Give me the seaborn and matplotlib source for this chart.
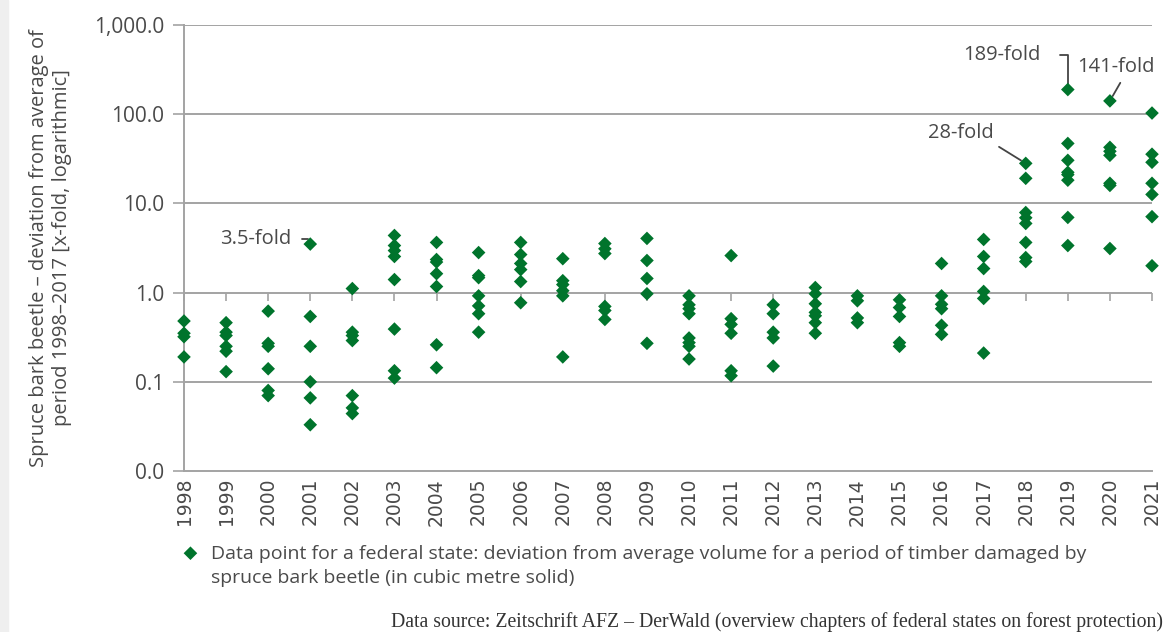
''' spruce bark beetle deviation per federal state, log scale scatter '''
import matplotlib
matplotlib.use("Agg")
import matplotlib.pyplot as plt
from matplotlib.patches import Rectangle
import seaborn as sb
import pandas as pd

years = list(range(1998, 2022))

# one list of state values (x-fold deviation) per year
deviation = [
    [0.48, 0.35, 0.32, 0.19],                                   # 1998
    [0.46, 0.36, 0.33, 0.25, 0.22, 0.13],                       # 1999
    [0.62, 0.27, 0.25, 0.14, 0.08, 0.07],                       # 2000
    [3.5, 0.54, 0.25, 0.10, 0.066, 0.033],                      # 2001
    [1.11, 0.36, 0.33, 0.29, 0.07, 0.051, 0.044],               # 2002
    [4.37, 3.37, 2.96, 2.54, 1.4, 0.39, 0.133, 0.11],           # 2003
    [3.65, 2.35, 2.2, 1.63, 1.17, 0.26, 0.144],                 # 2004
    [2.81, 1.55, 1.47, 0.92, 0.71, 0.58, 0.36],                 # 2005
    [3.65, 2.67, 2.12, 1.81, 1.33, 0.77],                       # 2006
    [2.4, 1.36, 1.23, 1.05, 0.92, 0.19],                        # 2007
    [3.55, 3.1, 2.74, 0.70, 0.63, 0.50],                        # 2008
    [4.05, 2.29, 1.44, 0.97, 0.27],                             # 2009
    [0.92, 0.73, 0.66, 0.58, 0.31, 0.275, 0.25, 0.18],          # 2010
    [2.6, 0.51, 0.44, 0.35, 0.133, 0.117],                      # 2011
    [0.73, 0.58, 0.36, 0.31, 0.15],                             # 2012
    [1.14, 0.97, 0.75, 0.6, 0.55, 0.46, 0.35],                  # 2013
    [0.92, 0.81, 0.52, 0.46],                                   # 2014
    [0.83, 0.68, 0.54, 0.275, 0.25],                            # 2015
    [2.12, 0.92, 0.74, 0.66, 0.43, 0.34],                       # 2016
    [3.94, 2.54, 1.86, 1.03, 0.86, 0.21],                       # 2017
    [28.1, 19.1, 7.9, 6.9, 5.96, 3.65, 2.47, 2.23],             # 2018
    [189, 47, 30.4, 22.3, 21, 18.2, 6.96, 3.37],                # 2019
    [141, 42.5, 38.4, 34.6, 16.8, 15.9, 3.12],                  # 2020
    [103, 35.6, 28.9, 16.8, 12.6, 7.1, 2.0],                    # 2021
]

ytick_values = [0.01, 0.1, 1, 10, 100, 1000]
ytick_labels = ["0.0", "0.1", "1.0", "10.0", "100.0", "1,000.0"]

legend_label = ("Data point for a federal state: deviation from average volume for a period of timber damaged by\n"
                "spruce bark beetle (in cubic metre solid)")
source_text = "Data source: Zeitschrift AFZ \u2013 DerWald (overview chapters of federal states on forest protection)"
ylabel = "Spruce bark beetle \u2013 deviation from average of\nperiod 1998\u20132017 [x-fold, logarithmic]"

rows = [(y, v) for y, vals in zip(years, deviation) for v in vals]
df = pd.DataFrame(rows, columns=["year", "deviation"])

green = "#00742c"
grid_col = "#a3a3a3"
text_col = "#4a4a4a"

sb.set_style("white")
plt.rcParams["font.family"] = ["Open Sans", "DejaVu Sans"]

fig = plt.figure(figsize=(11.71, 6.32), dpi=100)
fig.patches.append(Rectangle((0, 0), 8 / 1171, 1, transform=fig.transFigure,
                             color="#efefef", zorder=0))
ax = fig.add_axes([184 / 1171, 1 - 471 / 632, (1152 - 184) / 1171, (471 - 25) / 632])

sb.scatterplot(data=df, x="year", y="deviation", ax=ax, marker="D", s=48,
               color=green, edgecolor="none", label=legend_label, zorder=5, clip_on=False)

ax.set_yscale("log")
ax.set_ylim(0.01, 1000)
ax.set_xlim(1998, 2021)
ax.set_yticks(ytick_values)
ax.set_yticklabels(ytick_labels)
ax.minorticks_off()
ax.set_xticks(years)
ax.set_xticklabels([str(y) for y in years], rotation=90,
                   family=["DejaVu Sans"], fontsize=13.5)

for v in ytick_values[1:]:
    ax.axhline(v, color=grid_col, lw=1.4, zorder=1)
for side in ["top", "right"]:
    ax.spines[side].set_visible(False)
for side in ["left", "bottom"]:
    ax.spines[side].set_color(grid_col)
    ax.spines[side].set_linewidth(1.4)

ax.tick_params(axis="y", length=8, width=1.2, color=grid_col, labelsize=15,
               labelcolor=text_col, pad=6, left=True)
ax.tick_params(axis="x", length=0, labelcolor=text_col, pad=5)

# excel style category ticks on the 1.0 line
sec = ax.secondary_xaxis(0.4)
sec.set_xticks(years)
sec.set_xticklabels([])
sec.tick_params(axis="x", length=6, width=1.2, color=grid_col)
sec.spines["bottom"].set_visible(False)

ax.set_xlabel("")
ax.set_ylabel(ylabel, fontsize=14.5, color=text_col, labelpad=16, linespacing=1.2)

line_kw = dict(arrowstyle="-", color="#444444", lw=1.3)
ann_size = 14.5
ax.annotate("3.5-fold", xy=(2001, 3.5), xytext=(2000.55, 4.0), ha="right", va="center",
            fontsize=ann_size, color=text_col,
            arrowprops=dict(line_kw, connectionstyle="angle,angleA=0,angleB=90,rad=0",
                            relpos=(1, 0.5), shrinkA=5, shrinkB=4))
ax.annotate("28-fold", xy=(2018, 28.1), xytext=(2016.45, 61), ha="center", va="center",
            fontsize=ann_size, color=text_col,
            arrowprops=dict(line_kw, relpos=(1, 0), shrinkA=2, shrinkB=4))
ax.annotate("189-fold", xy=(2019, 189), xytext=(2017.43, 460), ha="center", va="center",
            fontsize=ann_size, color=text_col,
            arrowprops=dict(line_kw, connectionstyle="angle,angleA=0,angleB=90,rad=0",
                            relpos=(1, 0.5), shrinkA=12, shrinkB=4))
ax.annotate("141-fold", xy=(2020, 141), xytext=(2020.14, 337), ha="center", va="center",
            fontsize=ann_size, color=text_col,
            arrowprops=dict(line_kw, relpos=(0.6, 0), shrinkA=2, shrinkB=4))

leg = ax.legend(loc="upper left", bbox_to_anchor=(171 / 1171, 1 - 535 / 632),
                bbox_transform=fig.transFigure, frameon=False, fontsize=14,
                handletextpad=0.55, borderpad=0, handlelength=1.0)
for t in leg.get_texts():
    t.set_color(text_col)
    t.set_linespacing(1.45)
# put the marker on the first text line
for col in leg._legend_handle_box.get_children():
    for item in col.get_children():
        item.align = "top"

fig.text(1163 / 1171, 1 - 622 / 632, source_text, ha="right", va="center",
         fontsize=14.2, color="#333333", family=["Liberation Serif", "DejaVu Serif"])

fig.savefig("out.png", dpi=100)
